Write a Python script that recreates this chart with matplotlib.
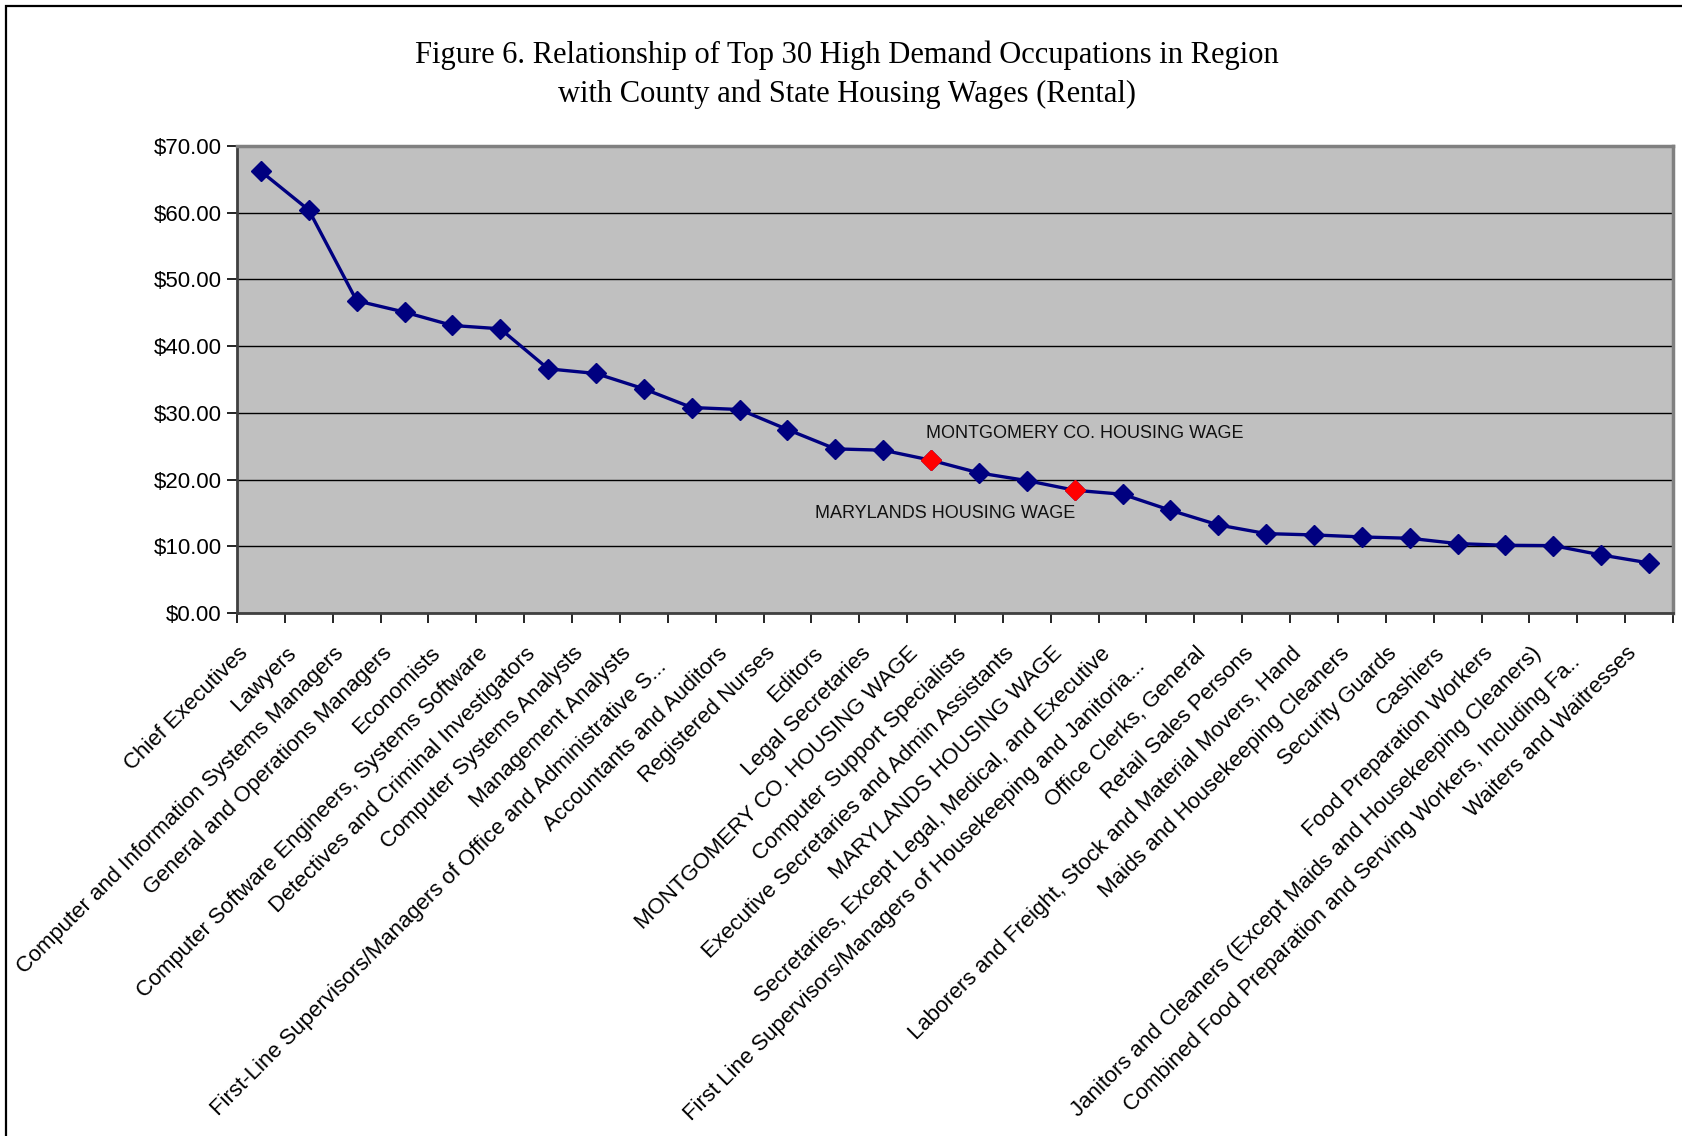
import matplotlib
matplotlib.use("Agg")
import matplotlib.pyplot as plt
from matplotlib.patches import Rectangle
from matplotlib.ticker import FixedLocator, FuncFormatter
from matplotlib.transforms import ScaledTranslation, blended_transform_factory

# Occupations (and the two housing-wage reference points), ordered by hourly wage.
# Truncated names keep the trailing blanks of the source spreadsheet.
occupations = [
    "Chief Executives",
    "Lawyers",
    "Computer and Information Systems Managers",
    "General and Operations Managers",
    "Economists",
    "Computer Software Engineers, Systems Software",
    "Detectives and Criminal Investigators",
    "Computer Systems Analysts",
    "Management Analysts",
    "First-Line Supervisors/Managers of Office and Administrative S...   ",
    "Accountants and Auditors",
    "Registered Nurses",
    "Editors",
    "Legal Secretaries",
    "MONTGOMERY CO. HOUSING WAGE",
    "Computer Support Specialists",
    "Executive Secretaries and Admin Assistants",
    "MARYLANDS HOUSING WAGE",
    "Secretaries, Except Legal, Medical, and Executive",
    "First Line Supervisors/Managers of Housekeeping and Janitoria...   ",
    "Office Clerks, General",
    "Retail Sales Persons",
    "Laborers and Freight, Stock and Material Movers, Hand",
    "Maids and Housekeeping Cleaners",
    "Security Guards",
    "Cashiers",
    "Food Preparation Workers",
    "Janitors and Cleaners (Except Maids and Housekeeping Cleaners)",
    "Combined Food Preparation and Serving Workers, Including Fa..  ",
    "Waiters and Waitresses",
]

hourly_wage = [
    66.2, 60.4, 46.8, 45.1, 43.1, 42.6, 36.6, 35.9, 33.6, 30.8,
    30.5, 27.5, 24.6, 24.4, 22.9, 21.0, 19.85, 18.4, 17.8, 15.4,
    13.2, 11.9, 11.7, 11.4, 11.2, 10.4, 10.15, 10.1, 8.7, 7.5,
]

housing_wage_labels = ["MONTGOMERY CO. HOUSING WAGE", "MARYLANDS HOUSING WAGE"]

y_ticks = [0, 10, 20, 30, 40, 50, 60, 70]

title_text = ("Figure 6. Relationship of Top 30 High Demand Occupations in Region\n"
              "with County and State Housing Wages (Rental)")

W, H = 1682, 1136
fig = plt.figure(figsize=(W / 100, H / 100), dpi=100)
fig.patch.set_facecolor("white")

# outer chart border
fig.patches.append(Rectangle((6 / W, -0.05), 1.2, 1 - 6 / H + 0.05,
                             transform=fig.transFigure, fill=False,
                             edgecolor="black", linewidth=1.6))

left, right, top, bottom = 237, 1673, 146, 613
ax = fig.add_axes([left / W, 1 - bottom / H, (right - left) / W, (bottom - top) / H])
ax.set_facecolor("#C0C0C0")

x = list(range(len(occupations)))
navy = "#000080"
ax.plot(x, hourly_wage, color=navy, linewidth=2.4, marker="D",
        markersize=10, markerfacecolor=navy, markeredgecolor=navy, zorder=3)

# housing wage points highlighted in red
for lbl in housing_wage_labels:
    i = occupations.index(lbl)
    ax.plot([i], [hourly_wage[i]], linestyle="none", marker="D", markersize=10,
            markerfacecolor="#FF0000", markeredgecolor="#FF0000", zorder=4)

ax.set_xlim(-0.5, len(occupations) - 0.5)
ax.set_ylim(0, 70)

ax.set_yticks(y_ticks)
ax.yaxis.set_major_formatter(FuncFormatter(lambda v, p: f"${v:.2f}"))
ax.grid(axis="y", color="black", linewidth=1.0, zorder=1)
ax.set_axisbelow(True)

# category labels, rotated, ending just below each category
ax.set_xticks(x)
ax.tick_params(axis="x", which="major", length=0, labelbottom=False)
label_tf = (blended_transform_factory(ax.transData, ax.transAxes)
            + ScaledTranslation(-23 / 100, -30 / 100, fig.dpi_scale_trans))
for i, lbl in zip(x, occupations):
    ax.text(i, 0, lbl, transform=label_tf, rotation=45, rotation_mode="anchor",
            ha="right", va="top", fontsize=15.9, family="Liberation Sans",
            clip_on=False)

ax.xaxis.set_minor_locator(FixedLocator([i - 0.5 for i in range(len(occupations) + 1)]))
ax.tick_params(axis="x", which="minor", length=7, width=1.2, color="black", direction="out")
ax.tick_params(axis="y", length=7, width=1.2, direction="out", labelsize=16, pad=4)
for t in ax.get_yticklabels():
    t.set_family("Liberation Sans")

for side in ("top", "right"):
    ax.spines[side].set_color("#808080")
    ax.spines[side].set_linewidth(2.5)
for side in ("left", "bottom"):
    ax.spines[side].set_color("#404040")
    ax.spines[side].set_linewidth(2.0)

i_mc = occupations.index(housing_wage_labels[0])
i_md = occupations.index(housing_wage_labels[1])
ax.annotate("MONTGOMERY CO. HOUSING WAGE", xy=(i_mc, hourly_wage[i_mc]),
            xytext=(926, H - 434), textcoords="figure pixels",
            fontsize=13, family="Liberation Sans", va="center", ha="left",
            color="#111111")
ax.annotate("MARYLANDS HOUSING WAGE", xy=(i_md, hourly_wage[i_md]),
            xytext=(815, H - 514), textcoords="figure pixels",
            fontsize=13, family="Liberation Sans", va="center", ha="left",
            color="#111111")

fig.text(847 / W, 1 - 74.5 / H, title_text, ha="center", va="center",
         family="Liberation Serif", fontsize=22, linespacing=1.42)

fig.savefig("out.png", dpi=100)
